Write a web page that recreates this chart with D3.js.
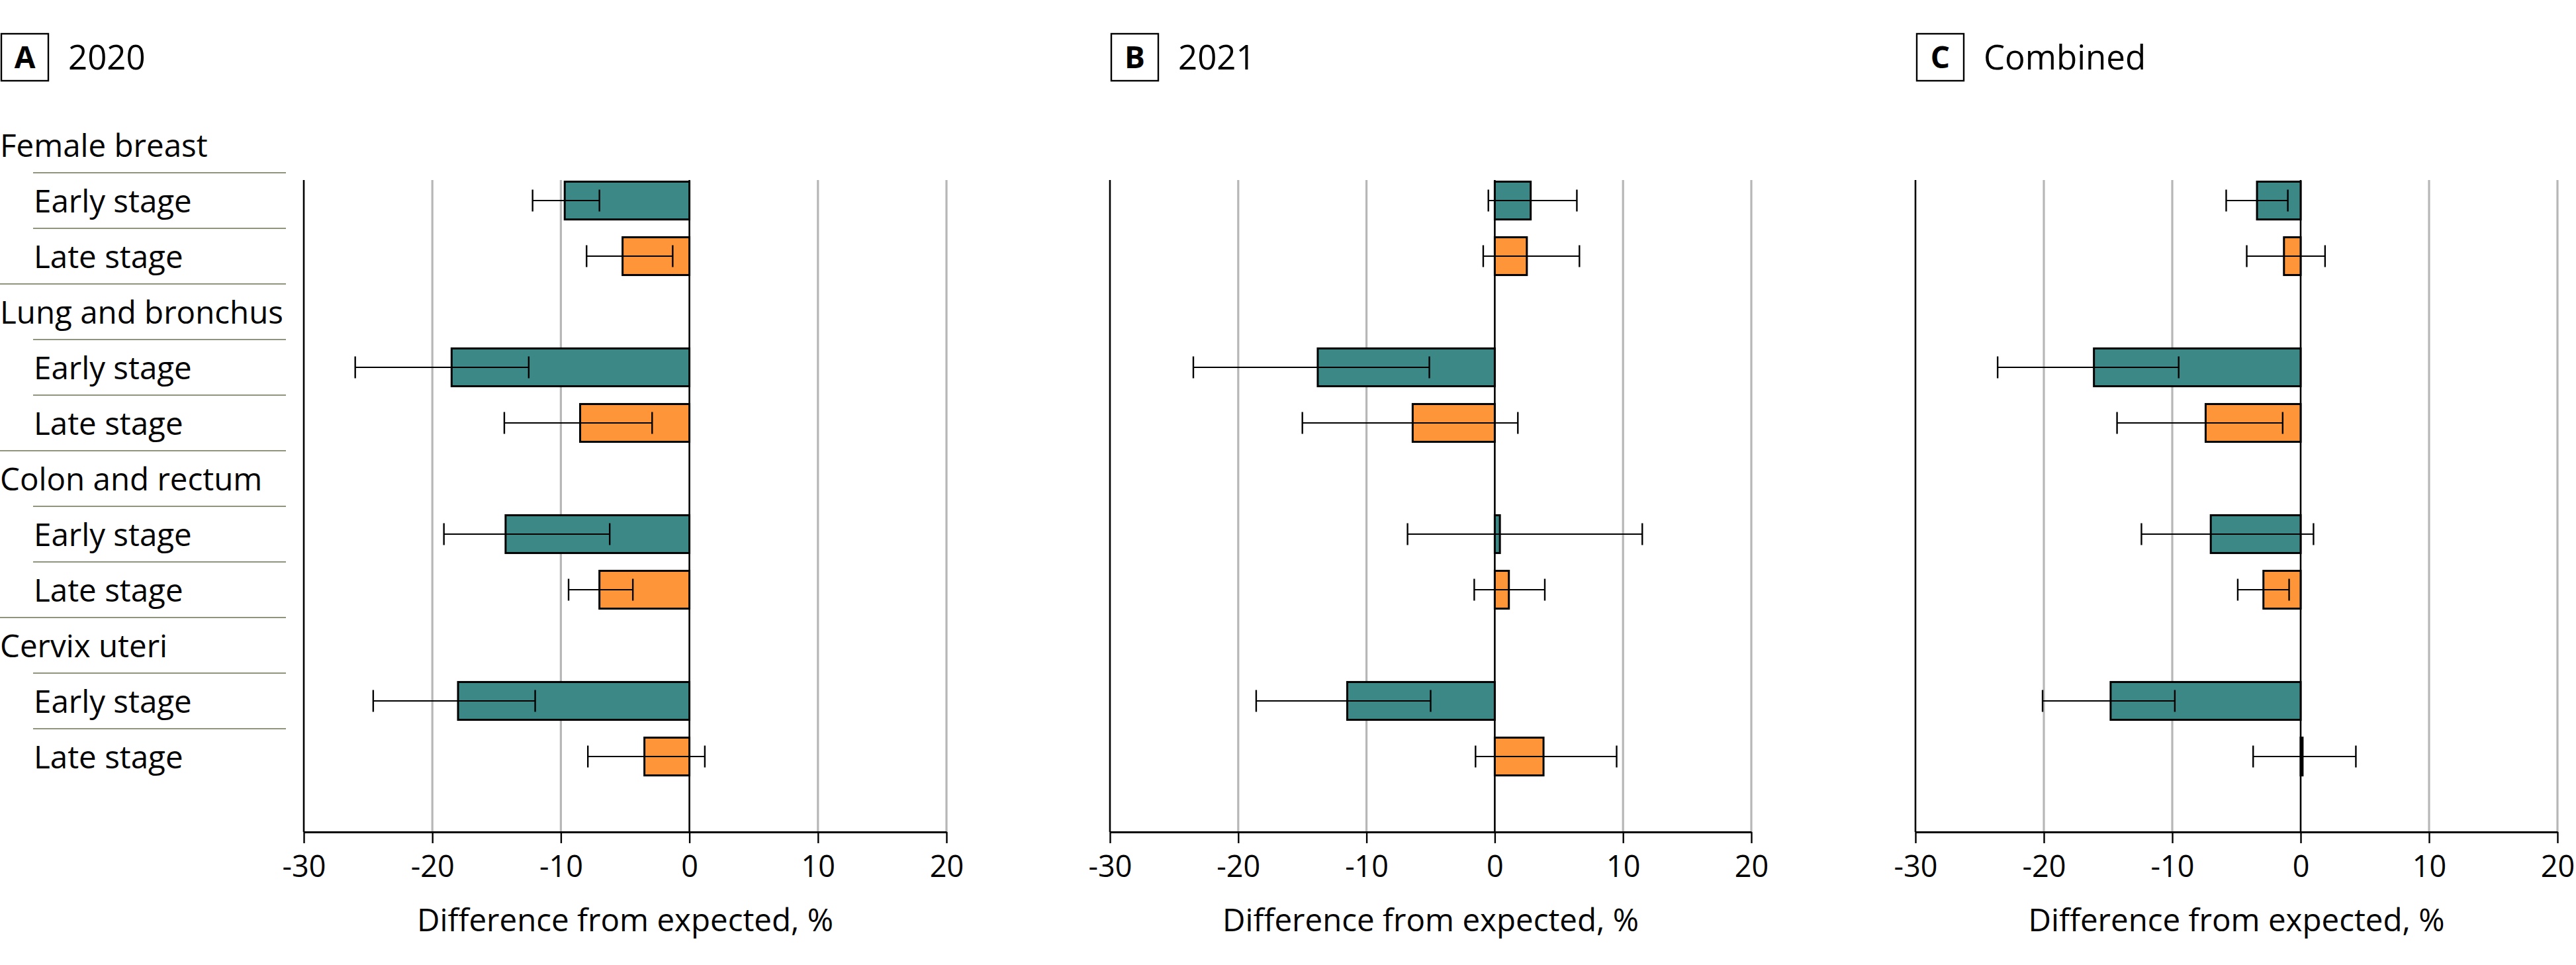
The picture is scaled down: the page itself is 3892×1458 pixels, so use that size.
<!DOCTYPE html>
<html>
<head>
<meta charset="utf-8">
<script src="https://cdn.jsdelivr.net/npm/d3@7"></script>
<style>
  html, body { margin: 0; padding: 0; background: #fff; }
  svg { display: block; }
  text { font-family: "Open Sans", "Noto Sans", "Liberation Sans", Arial, sans-serif; fill: #000; }
</style>
</head>
<body>
<svg id="chart" width="3892" height="1458"></svg>
<script>
// ---------------- data ----------------
const categories = ["Female breast", "Lung and bronchus", "Colon and rectum", "Cervix uteri"];
const stages = ["Early stage", "Late stage"];
const panelLetters = ["A", "B", "C"];
const panelTitles = ["2020", "2021", "Combined"];
const xTicks = [-30, -20, -10, 0, 10, 20];
const xTitle = "Difference from expected, %";

// order: breast early, breast late, lung early, lung late, colon early, colon late, cervix early, cervix late
const est2020 = [-9.7, -5.2, -18.5, -8.5, -14.3, -7.0, -18.0, -3.5];
const lo2020  = [-12.2, -8.0, -26.0, -14.4, -19.1, -9.4, -24.6, -7.9];
const hi2020  = [-7.0, -1.3, -12.5, -2.9, -6.2, -4.4, -12.0, 1.2];

const est2021 = [2.8, 2.5, -13.8, -6.4, 0.4, 1.1, -11.5, 3.8];
const lo2021  = [-0.5, -0.9, -23.5, -15.0, -6.8, -1.6, -18.6, -1.5];
const hi2021  = [6.4, 6.6, -5.1, 1.8, 11.5, 3.9, -5.0, 9.5];

const estComb = [-3.4, -1.3, -16.1, -7.4, -7.0, -2.9, -14.8, 0.15];
const loComb  = [-5.8, -4.2, -23.6, -14.3, -12.4, -4.9, -20.1, -3.7];
const hiComb  = [-1.0, 1.9, -9.5, -1.4, 1.0, -0.9, -9.8, 4.3];

const stageColors = ["#3c8886", "#fe9539"];

// ---------------- layout ----------------
const svg = d3.select("#chart");
const FS = 47.5;
const panelRanges = [[459, 1430], [1677, 2646], [2894, 3864]];
const plotTop = 272, plotBottom = 1257;
const series = [
  [est2020, lo2020, hi2020],
  [est2021, lo2021, hi2021],
  [estComb, loComb, hiComb]
];

// rows: header + 2 stages per category
const rows = [];
categories.forEach((c, ci) => {
  rows.push({ type: "header", label: c, ci });
  stages.forEach((s, si) => rows.push({ type: "stage", label: s, ci, si, idx: ci * 2 + si }));
});
rows.forEach((r, i) => r.row = i);

const y = d3.scaleBand().domain(d3.range(rows.length)).range([177, 177 + 84 * rows.length]).padding(0);
const bh = y.bandwidth() * 0.68;
const bOff = (y.bandwidth() - bh) / 2;

// ---------------- row labels ----------------
const lab = svg.append("g");
rows.forEach(r => {
  const cy = y(r.row) + y.bandwidth() / 2;
  lab.append("text")
    .attr("x", r.type === "header" ? 0 : 51)
    .attr("y", cy + 17.5)
    .attr("font-size", FS)
    .text(r.label);
  if (r.row > 0) {
    lab.append("line")
      .attr("x1", r.type === "header" ? 0 : 50)
      .attr("x2", 432)
      .attr("y1", y(r.row)).attr("y2", y(r.row))
      .attr("stroke", "#8e957c").attr("stroke-width", 2.2);
  }
});

// ---------------- panels ----------------
series.forEach((ser, pi) => {
  const [est, lo, hi] = ser;
  const x = d3.scaleLinear().domain([-30, 20]).range(panelRanges[pi]);
  const g = svg.append("g");

  // title
  const bx = pi === 0 ? 0 : panelRanges[pi][0];
  g.append("rect")
    .attr("x", bx + 2).attr("y", 51).attr("width", 71).attr("height", 71)
    .attr("fill", "none").attr("stroke", "#000").attr("stroke-width", 2.4);
  g.append("text")
    .attr("x", bx + 37.5).attr("y", 103)
    .attr("text-anchor", "middle").attr("font-size", 46).attr("font-weight", "bold")
    .text(panelLetters[pi]);
  g.append("text")
    .attr("x", bx + 103).attr("y", 105)
    .attr("font-size", 51)
    .text(panelTitles[pi]);

  // gridlines
  g.selectAll("line.grid").data(xTicks).join("line")
    .attr("class", "grid")
    .attr("x1", d => x(d)).attr("x2", d => x(d))
    .attr("y1", plotTop).attr("y2", plotBottom)
    .attr("stroke", d => (d === -30 || d === 0) ? "#000" : "#b7b7b7")
    .attr("stroke-width", d => (d === -30 || d === 0) ? 2.6 : 3.2);

  // bars
  const stageRows = rows.filter(r => r.type === "stage");
  g.selectAll("rect.bar").data(stageRows).join("rect")
    .attr("class", "bar")
    .attr("x", r => Math.min(x(0), x(est[r.idx])))
    .attr("width", r => Math.abs(x(est[r.idx]) - x(0)))
    .attr("y", r => y(r.row) + bOff)
    .attr("height", bh)
    .attr("fill", r => stageColors[r.si])
    .attr("stroke", "#000").attr("stroke-width", 3);

  // error bars
  const capH = 33;
  const eb = g.selectAll("g.err").data(stageRows).join("g").attr("class", "err");
  eb.append("line")
    .attr("x1", r => x(lo[r.idx])).attr("x2", r => x(hi[r.idx]))
    .attr("y1", r => y(r.row) + y.bandwidth() / 2).attr("y2", r => y(r.row) + y.bandwidth() / 2)
    .attr("stroke", "#000").attr("stroke-width", 2.2);
  [lo, hi].forEach(arr => {
    eb.append("line")
      .attr("x1", r => x(arr[r.idx])).attr("x2", r => x(arr[r.idx]))
      .attr("y1", r => y(r.row) + y.bandwidth() / 2 - capH / 2)
      .attr("y2", r => y(r.row) + y.bandwidth() / 2 + capH / 2)
      .attr("stroke", "#000").attr("stroke-width", 2.4);
  });

  // x axis
  const ax = g.append("g")
    .attr("transform", `translate(0,${plotBottom})`)
    .call(d3.axisBottom(x).tickValues(xTicks).tickSize(17).tickSizeOuter(0).tickFormat(d => String(d)));
  ax.select(".domain").attr("stroke", "#000").attr("stroke-width", 3);
  ax.selectAll(".tick line").attr("stroke", "#000").attr("stroke-width", 2.4);
  ax.selectAll(".tick text")
    .attr("font-family", "'Open Sans', 'Noto Sans', 'Liberation Sans', Arial, sans-serif")
    .attr("font-size", 45).attr("fill", "#000")
    .attr("y", 68).attr("dy", 0);

  g.append("text")
    .attr("x", (panelRanges[pi][0] + panelRanges[pi][1]) / 2)
    .attr("y", 1407)
    .attr("text-anchor", "middle")
    .attr("font-size", FS)
    .text(xTitle);
});
</script>
</body>
</html>
